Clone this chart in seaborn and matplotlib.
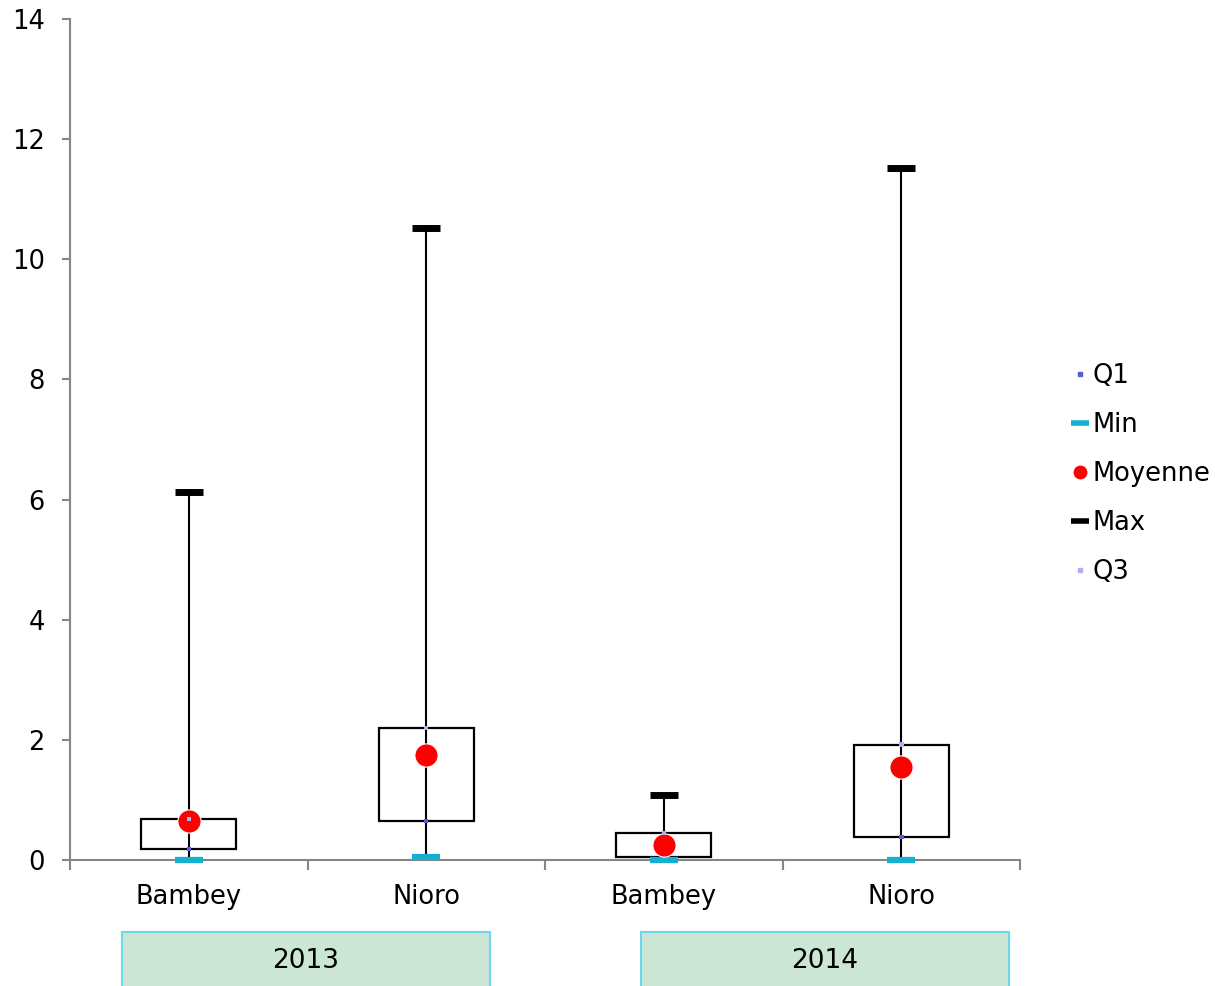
import matplotlib
matplotlib.use("Agg")
import matplotlib.pyplot as plt
from matplotlib.lines import Line2D
from matplotlib.patches import Rectangle
import seaborn as sns
import numpy as np
import pandas as pd

# Données
sites = ["Bambey", "Nioro", "Bambey", "Nioro"]
annees = ["2013", "2014"]
val_min = [0.0, 0.05, 0.0, 0.0]
val_q1 = [0.18, 0.65, 0.05, 0.38]
val_moy = [0.65, 1.75, 0.25, 1.55]
val_q3 = [0.68, 2.2, 0.45, 1.92]
val_max = [6.13, 10.52, 1.08, 11.52]

sns.set_style("white")
plt.rcParams['font.family'] = ['DejaVu Sans']
plt.rcParams['text.color'] = 'black'
plt.rcParams['xtick.labelcolor'] = 'black'
plt.rcParams['ytick.labelcolor'] = 'black'

df = pd.DataFrame({"pos": np.arange(len(sites)), "site": sites,
                   "Min": val_min, "Q1": val_q1, "Moyenne": val_moy,
                   "Q3": val_q3, "Max": val_max})

fig = plt.figure(figsize=(12.15, 9.86), dpi=100)
ax = fig.add_axes([0.0576, 0.1278, 0.782, 0.853])

# Moustaches (min -> max) et boîtes (Q1 -> Q3)
ax.vlines(df["pos"], df["Min"], df["Max"], color="black", lw=1.5, zorder=2)
ax.bar(df["pos"], df["Q3"] - df["Q1"], bottom=df["Q1"], width=0.4,
       fill=False, edgecolor="black", lw=1.6, zorder=3)

# Marqueurs
sns.scatterplot(data=df, x="pos", y="Q1", marker="s", s=10, color="#5b5bd6",
                edgecolor="none", ax=ax, zorder=4, clip_on=False)
sns.scatterplot(data=df, x="pos", y="Min", marker="_", s=420, color="#17afd1",
                linewidth=4.5, ax=ax, zorder=4, clip_on=False)
sns.scatterplot(data=df, x="pos", y="Max", marker="_", s=420, color="black",
                linewidth=5, ax=ax, zorder=4, clip_on=False)
sns.scatterplot(data=df, x="pos", y="Moyenne", marker="o", s=280, color="#ff0000",
                edgecolor="white", linewidth=0.8, ax=ax, zorder=5, clip_on=False)
sns.scatterplot(data=df, x="pos", y="Q3", marker="s", s=10, color="#b0b0ee",
                edgecolor="none", ax=ax, zorder=6, clip_on=False)

ax.set_xlim(-0.5, 3.5)
ax.set_ylim(0, 14)
ax.set_yticks(np.arange(0, 15, 2))
ax.set_xticks(df["pos"])
ax.set_xticklabels(sites)
ax.set_xticks(np.arange(-0.5, 4, 1), minor=True)
ax.set_xlabel("")
ax.set_ylabel("")

gris = "#868686"
for s in ["top", "right"]:
    ax.spines[s].set_visible(False)
for s in ["left", "bottom"]:
    ax.spines[s].set_color(gris)
    ax.spines[s].set_linewidth(1.5)
ax.tick_params(axis="y", direction="out", length=6, width=1.5, color=gris,
               labelsize=18.5, pad=12, left=True)
ax.tick_params(axis="x", which="major", length=0, labelsize=18.5, pad=17)
ax.tick_params(axis="x", which="minor", direction="out", length=7, width=1.5,
               color=gris, bottom=True)

# Cases des années sous l'axe
centres_annee = [306, 825]
for annee, cx in zip(annees, centres_annee):
    x0 = (cx - 184) / 1215
    fig.add_artist(Rectangle((x0, -0.02), 368 / 1215, 0.0748,
                             transform=fig.transFigure, facecolor="#cce6d6",
                             edgecolor="#6dd8e8", lw=1.5))
    fig.text(cx / 1215, 1 - 961 / 986, annee, ha="center", va="center",
             fontsize=19)

# Légende
poignees = [
    Line2D([], [], ls="none", marker="s", ms=2.5, color="#5b5bd6"),
    Line2D([], [], ls="none", marker="_", ms=13, mew=4, color="#17afd1"),
    Line2D([], [], ls="none", marker="o", ms=11, color="#ff0000", mec="white"),
    Line2D([], [], ls="none", marker="_", ms=13, mew=4, color="black"),
    Line2D([], [], ls="none", marker="s", ms=2.5, color="#b0b0ee"),
]
fig.legend(poignees, ["Q1", "Min", "Moyenne", "Max", "Q3"],
           loc="center left", bbox_to_anchor=(1059 / 1215, 1 - 474 / 986),
           frameon=False, fontsize=18.5, handlelength=0.6, handletextpad=0.2,
           labelspacing=0.9, borderpad=0)

fig.savefig("out.png", dpi=100)
